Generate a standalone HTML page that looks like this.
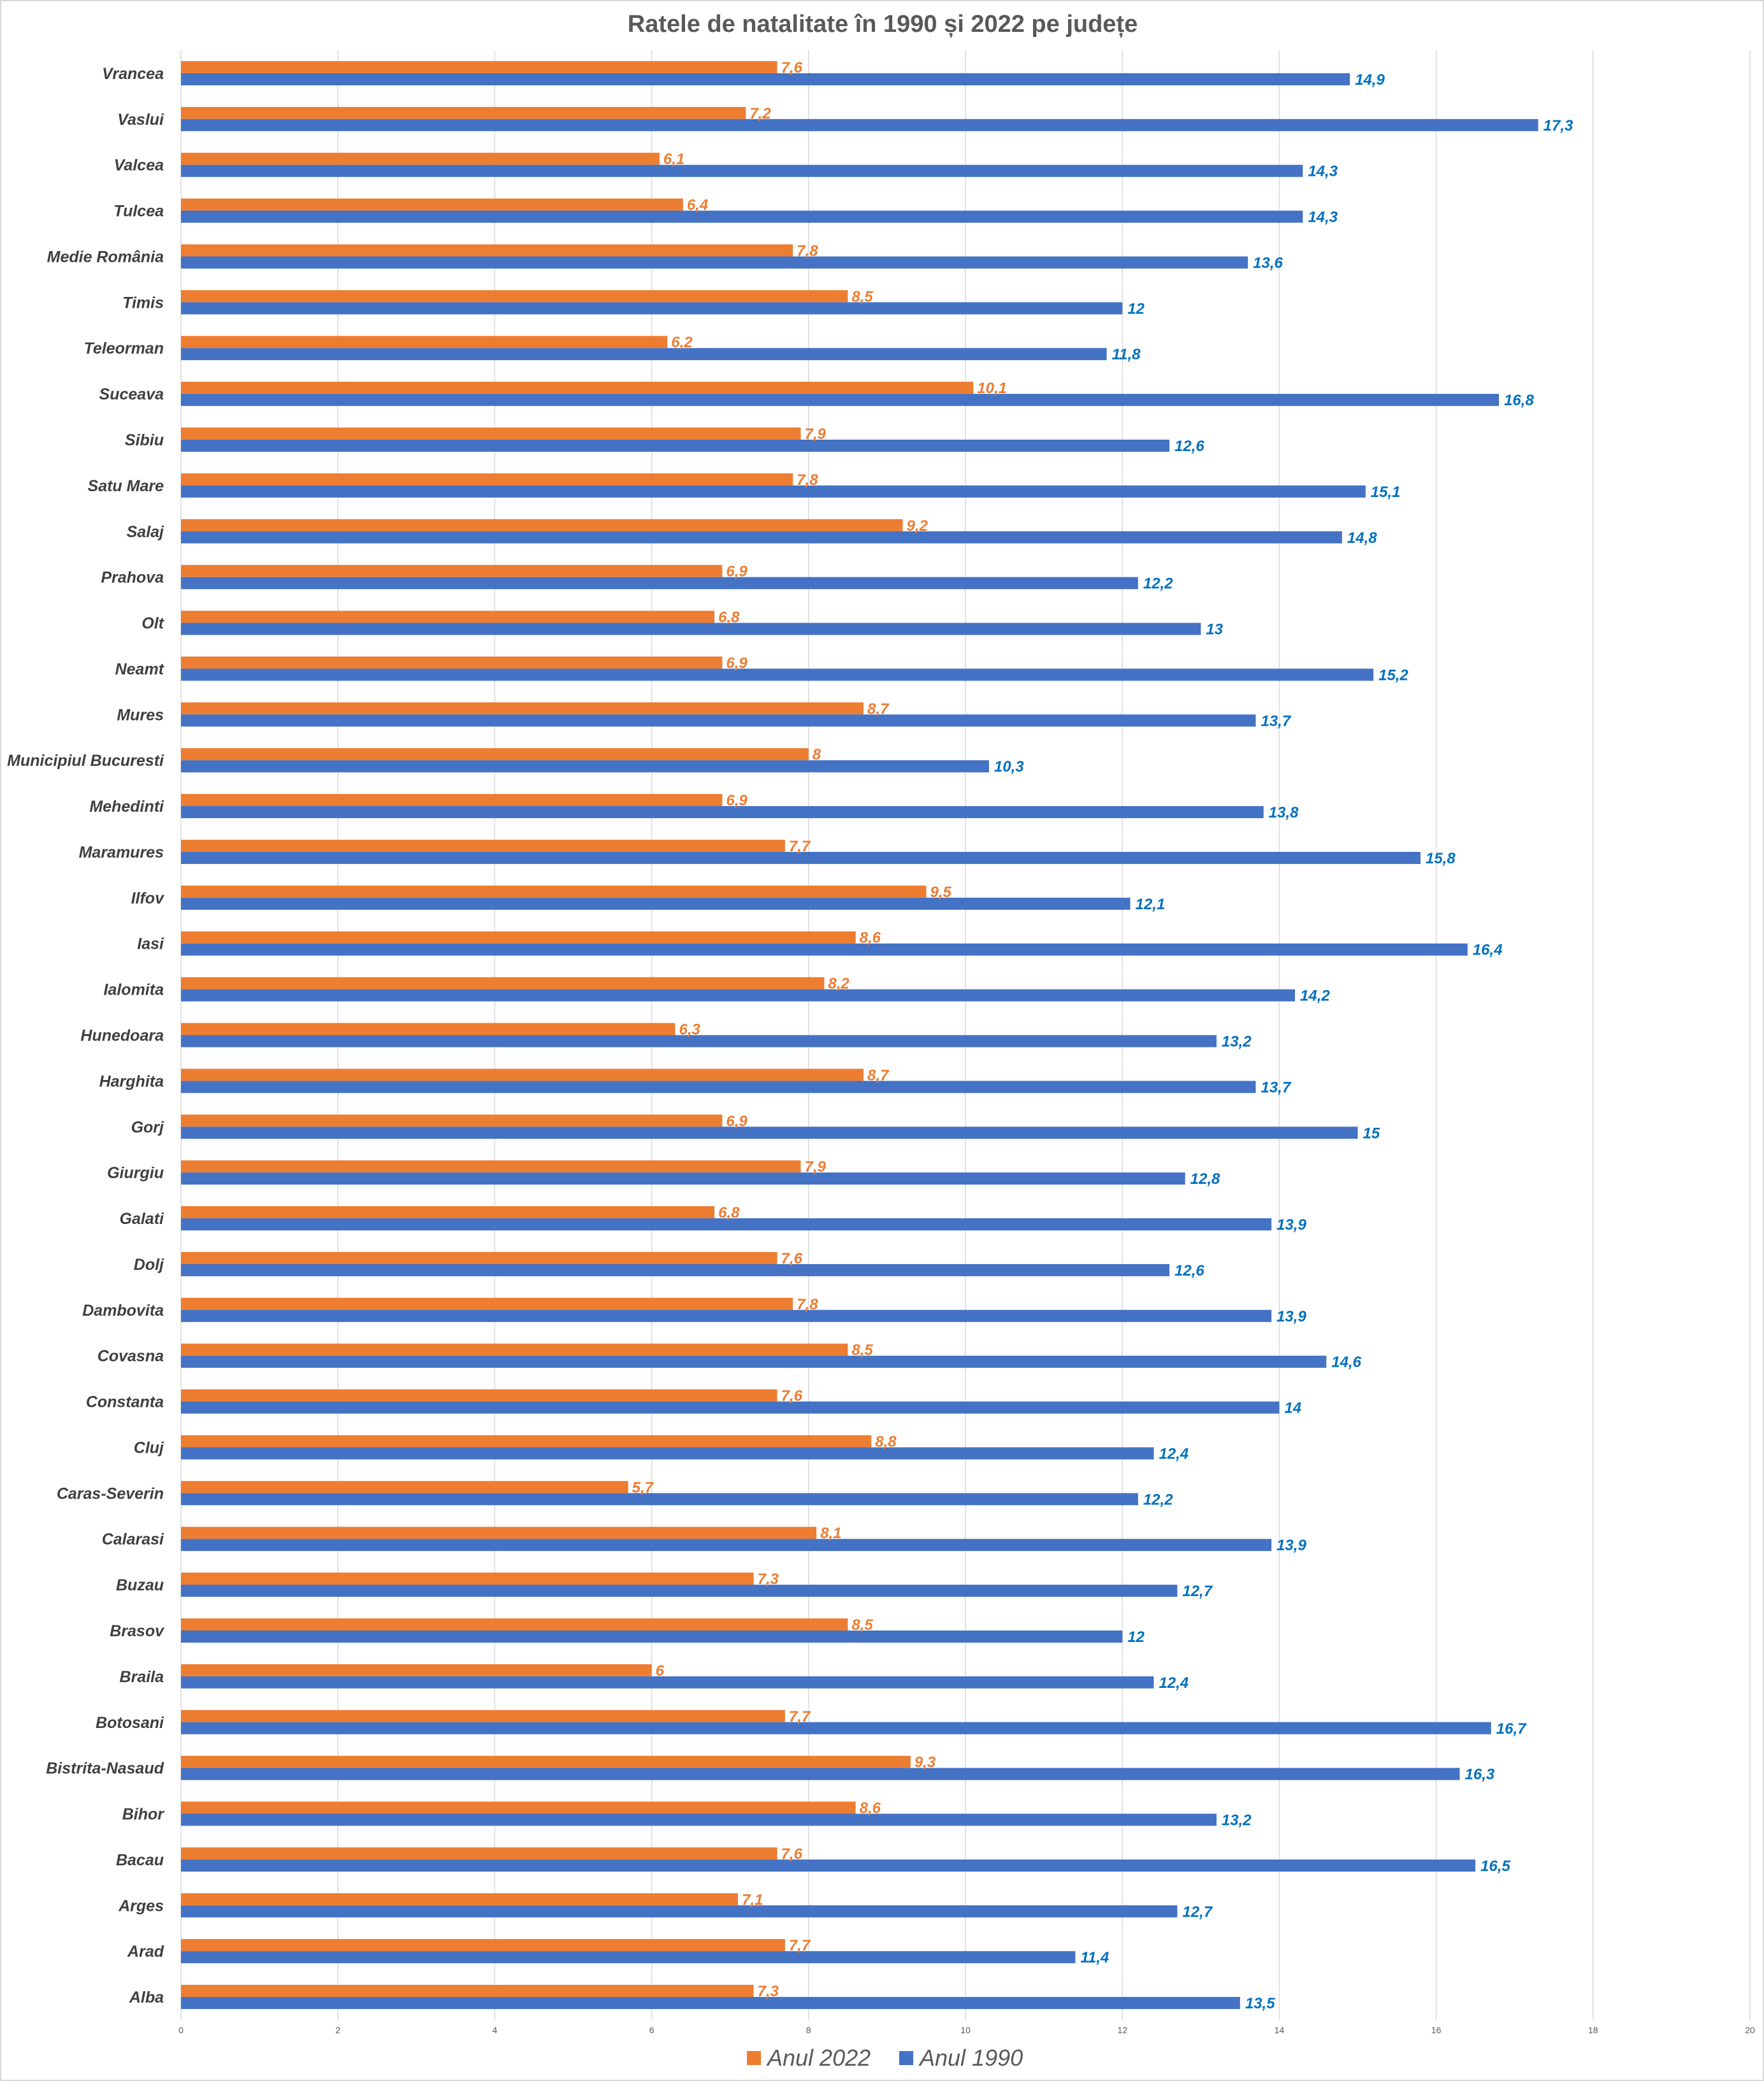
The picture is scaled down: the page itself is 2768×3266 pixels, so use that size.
<!DOCTYPE html>
<html><head><meta charset="utf-8"><style>
html,body{margin:0;padding:0;background:#fff}
svg{display:block}
text{font-family:"Liberation Sans",sans-serif}
</style></head><body>
<svg id="chart" width="2768" height="3266" xmlns="http://www.w3.org/2000/svg">
<rect x="1" y="1" width="2766" height="3264" fill="#fff" stroke="#d9d9d9" stroke-width="2"/>
<text x="1385" y="50" text-anchor="middle" font-size="38" font-weight="bold" fill="#595959">Ratele de natalitate în 1990 și 2022 pe județe</text>
<g id="grid"></g><g id="bars"></g><g id="labels"></g>
<g>
<rect x="1172" y="3219" width="22" height="22" fill="#ED7D31"/>
<text x="1204" y="3242" font-size="36" font-style="italic" fill="#595959">Anul 2022</text>
<rect x="1411" y="3219" width="22" height="22" fill="#4472C4"/>
<text x="1443" y="3242" font-size="36" font-style="italic" fill="#595959">Anul 1990</text>
</g>
</svg>
<script>
const categories=["Vrancea","Vaslui","Valcea","Tulcea","Medie România","Timis","Teleorman","Suceava","Sibiu","Satu Mare","Salaj","Prahova","Olt","Neamt","Mures","Municipiul Bucuresti","Mehedinti","Maramures","Ilfov","Iasi","Ialomita","Hunedoara","Harghita","Gorj","Giurgiu","Galati","Dolj","Dambovita","Covasna","Constanta","Cluj","Caras-Severin","Calarasi","Buzau","Brasov","Braila","Botosani","Bistrita-Nasaud","Bihor","Bacau","Arges","Arad","Alba"];
const values2022=[7.6,7.2,6.1,6.4,7.8,8.5,6.2,10.1,7.9,7.8,9.2,6.9,6.8,6.9,8.7,8,6.9,7.7,9.5,8.6,8.2,6.3,8.7,6.9,7.9,6.8,7.6,7.8,8.5,7.6,8.8,5.7,8.1,7.3,8.5,6,7.7,9.3,8.6,7.6,7.1,7.7,7.3];
const values1990=[14.9,17.3,14.3,14.3,13.6,12,11.8,16.8,12.6,15.1,14.8,12.2,13,15.2,13.7,10.3,13.8,15.8,12.1,16.4,14.2,13.2,13.7,15,12.8,13.9,12.6,13.9,14.6,14,12.4,12.2,13.9,12.7,12,12.4,16.7,16.3,13.2,16.5,12.7,11.4,13.5];
const ticks=[0,2,4,6,8,10,12,14,16,18,20];
const NS="http://www.w3.org/2000/svg";
const X0=284,X1=2746,XMAX=20,TOP=79,BOT=3170,BH=19;
const x=v=>X0+(v/XMAX)*(X1-X0);
const band=(BOT-TOP)/categories.length;
const yc=i=>TOP+band*(i+0.5);
const fmt=v=>String(v).replace('.',',');
function mk(tag,attrs,parent,txt){const e=document.createElementNS(NS,tag);for(const k in attrs)e.setAttribute(k,attrs[k]);if(txt!==undefined)e.textContent=txt;parent.appendChild(e);return e;}
const grid=document.getElementById('grid'),bars=document.getElementById('bars'),labels=document.getElementById('labels');
ticks.forEach(t=>{
  const l=mk('line',{x1:x(t),x2:x(t),y1:TOP,y2:BOT,stroke:'#d9d9d9','stroke-width':1.5},grid);
  
  
  const tl=mk('text',{x:x(t),y:3191,'text-anchor':'middle','font-size':14,fill:'#595959'},grid,String(t));
  
  
});
categories.forEach((c,i)=>{
  const cy=yc(i);
  const cl=mk('text',{x:257,y:cy+9,'text-anchor':'end','font-size':25,'font-weight':'bold','font-style':'italic',fill:'#404040'},labels,c);
  
  
  const b1=mk('rect',{x:X0,y:cy-BH,width:x(values2022[i])-X0,height:BH,fill:'#ED7D31'},bars);
  
  
  const b2=mk('rect',{x:X0,y:cy,width:x(values1990[i])-X0,height:BH,fill:'#4472C4'},bars);
  
  
  const l1=mk('text',{x:x(values2022[i])+6,y:cy-1,'font-size':24,'font-weight':'bold','font-style':'italic',fill:'#ED7D31'},labels,fmt(values2022[i]));
  
  
  const l2=mk('text',{x:x(values1990[i])+8,y:cy+18,'font-size':24,'font-weight':'bold','font-style':'italic',fill:'#0070C0'},labels,fmt(values1990[i]));
  
  
});
</script>
</body></html>
